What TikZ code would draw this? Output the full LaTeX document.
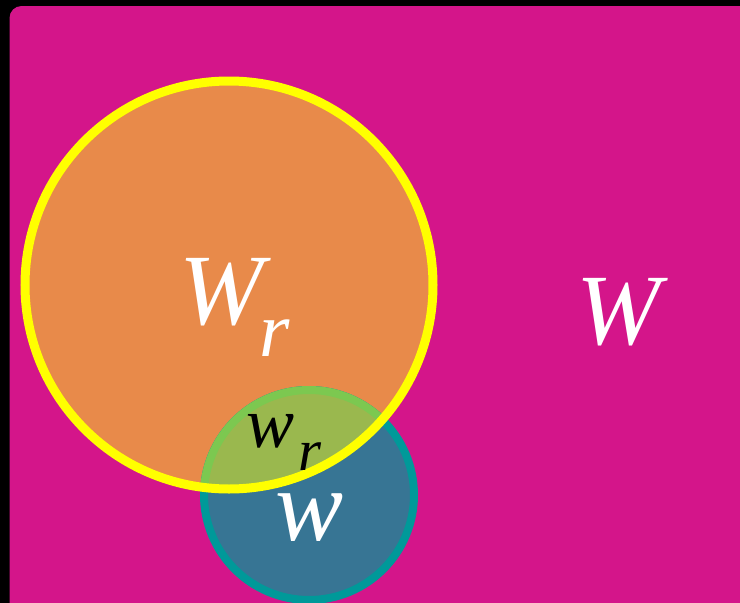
\documentclass[tikz,border=0pt]{standalone}
\usepackage{fontspec}
\setmainfont{Liberation Serif}
\definecolor{bgmag}{RGB}{212,21,138}
\definecolor{orangefill}{RGB}{232,138,74}
\definecolor{ringyellow}{RGB}{255,255,0}
\definecolor{tealring}{RGB}{0,153,153}
\definecolor{bluefill}{RGB}{55,117,148}
\definecolor{olivefill}{RGB}{154,184,78}
\definecolor{greenring}{RGB}{124,200,80}
\tikzset{
  lbl/.style={inner sep=0pt, outer sep=0pt},
}
\newcommand{\fsz}[1]{\fontsize{#1pt}{#1pt}\selectfont\itshape}
\begin{document}
\begin{tikzpicture}[x=1pt,y=-1pt]
\fill[black] (0,0) rectangle (740,603);
\useasboundingbox (0,0) rectangle (740,603);
\begin{scope}
\clip (0,0) rectangle (740,603);
\fill[bgmag, rounded corners=12pt] (9.5,6) rectangle (770,640);
% big circle fill
\coordinate (bigc) at (229,285);
\coordinate (smallc) at (309,495);
\fill[orangefill] (bigc) circle[radius=204pt];
% small circle
\fill[bluefill] (smallc) circle[radius=105pt];
\draw[tealring, line width=8pt] (smallc) circle[radius=105pt];
\begin{scope}
\clip (bigc) circle[radius=204pt];
\fill[olivefill] (smallc) circle[radius=105pt];
\draw[greenring, line width=8pt] (smallc) circle[radius=105pt];
\end{scope}
\draw[ringyellow, line width=9pt] (bigc) circle[radius=204pt];
\end{scope}
% labels
\node[lbl, text=white, font=\fsz{101}] (Wbig) at (619,312) {W};
\node[lbl, text=white, font=\fsz{101}] (Wr) at (222,292) {W};
\node[lbl, text=white, font=\fsz{78}] (Wrsub) at (275,338) {r};
\node[lbl, text=black, font=\fsz{72}] (wr) at (271,431) {w};
\node[lbl, text=black, font=\fsz{59}] (wrsub) at (310,457) {r};
\node[lbl, text=white, font=\fsz{102}] (wsmall) at (310,518) {w};
\end{tikzpicture}
\end{document}
